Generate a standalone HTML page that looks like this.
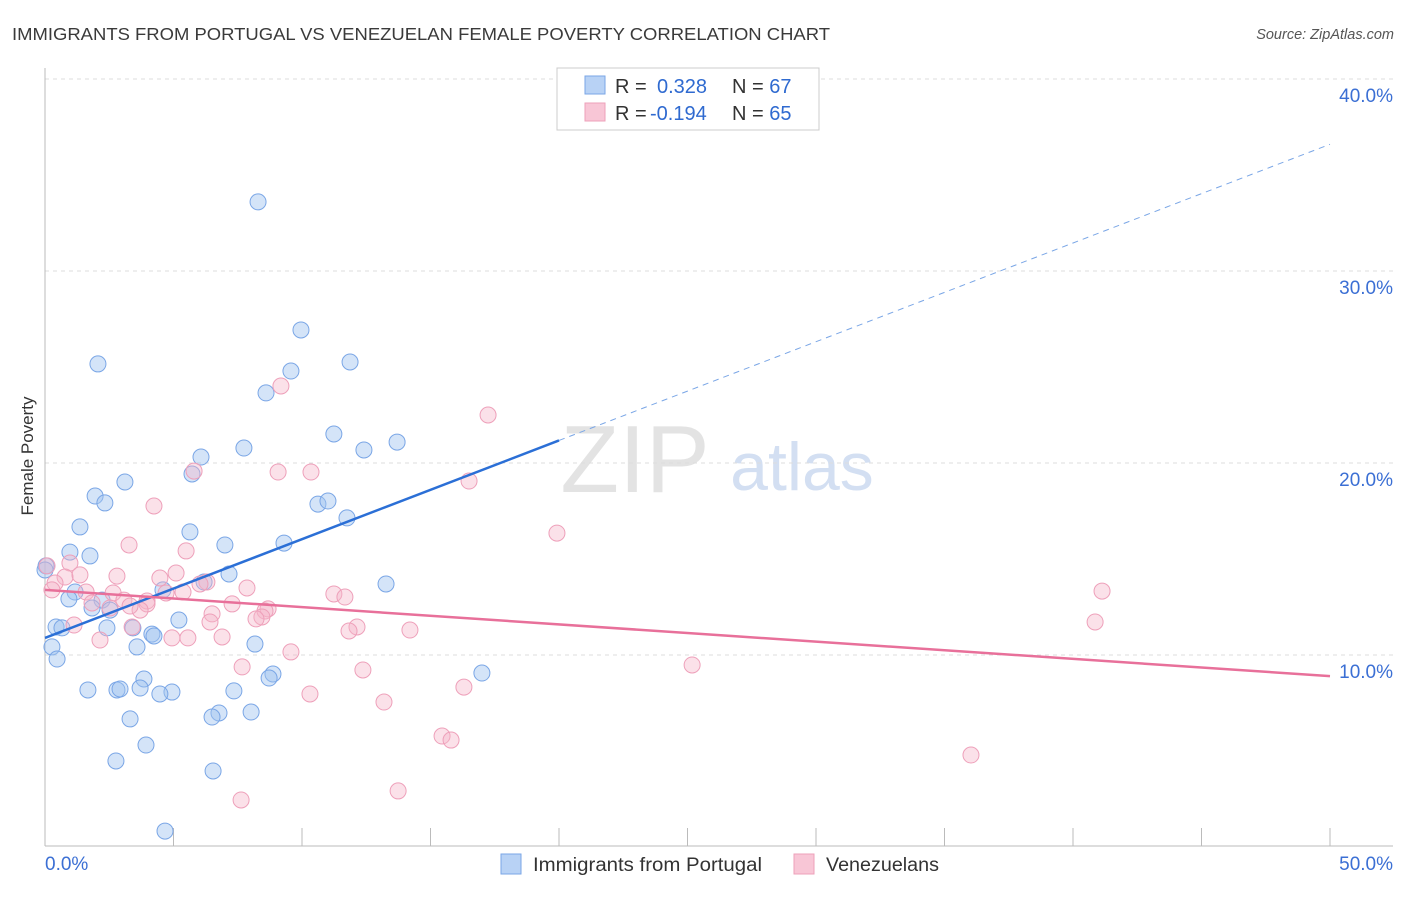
<!DOCTYPE html>
<html><head><meta charset="utf-8"><style>
body{margin:0;background:#fff;font-family:"Liberation Sans",sans-serif;}
svg text{font-family:"Liberation Sans",sans-serif;}
</style></head><body>
<svg id="chart" width="1406" height="892" xmlns="http://www.w3.org/2000/svg">
<text x="12" y="40" font-size="17.5" fill="#3a3a3a" textLength="818" lengthAdjust="spacingAndGlyphs">IMMIGRANTS FROM PORTUGAL VS VENEZUELAN FEMALE POVERTY CORRELATION CHART</text>
<text x="1394" y="39" font-size="14.5" fill="#555" font-style="italic" text-anchor="end">Source: ZipAtlas.com</text>
<text transform="translate(33,456) rotate(-90)" font-size="17" fill="#333" text-anchor="middle">Female Poverty</text>
<g>
<text x="635" y="492" font-size="96" fill="#d8d8d8" font-family="Liberation Serif" text-anchor="middle" opacity="0.7">ZIP</text>
<text x="802" y="490" font-size="68" fill="#c9d8ef" text-anchor="middle" opacity="0.8">atlas</text>
</g>
<g id="grid"></g>
<g id="axes"></g>
<g id="points"></g>
<g id="trends"></g>
<g>
<rect x="557" y="68" width="262" height="62" fill="#fff" stroke="#ccc"/>
<rect x="585" y="76" width="20" height="18" fill="#b8d2f5" stroke="#7aa6e6"/>
<text x="615" y="93" font-size="20" fill="#333">R =</text>
<text x="657" y="93" font-size="20" fill="#2f6ad0">0.328</text>
<text x="732" y="93" font-size="20" fill="#333">N = <tspan fill="#2f6ad0">67</tspan></text>
<rect x="585" y="103" width="20" height="18" fill="#f8c6d6" stroke="#eea0ba"/>
<text x="615" y="120" font-size="20" fill="#333">R =</text>
<text x="650" y="120" font-size="20" fill="#2f6ad0">-0.194</text>
<text x="732" y="120" font-size="20" fill="#333">N = <tspan fill="#2f6ad0">65</tspan></text>
</g>
<g>
<rect x="501" y="854" width="20" height="20" fill="#b8d2f5" stroke="#7aa6e6"/>
<text x="533" y="871" font-size="19" fill="#333" textLength="229" lengthAdjust="spacingAndGlyphs">Immigrants from Portugal</text>
<rect x="794" y="854" width="20" height="20" fill="#f8c6d6" stroke="#eea0ba"/>
<text x="826" y="871" font-size="19" fill="#333" textLength="113" lengthAdjust="spacingAndGlyphs">Venezuelans</text>
</g>
</svg>
<script>
const blueX=[8.29,9.96,11.87,2.06,9.57,8.6,11.24,13.7,12.41,7.74,6.07,5.72,3.11,1.95,2.33,10.62,11.01,11.75,1.36,5.64,9.3,7.0,0.97,1.75,7.16,6.19,13.27,4.59,1.17,0.93,2.22,2.53,1.83,5.21,0.43,0.66,3.42,4.16,4.24,2.41,8.17,3.58,0.27,0.47,17.0,8.87,3.85,8.72,1.67,2.8,2.92,3.7,4.94,4.47,7.35,6.77,6.5,8.02,3.31,3.93,2.76,6.54,4.67,0.04,0];
const blueY=[33.6,26.93,25.26,25.16,24.79,23.65,21.51,21.09,20.68,20.78,20.31,19.43,19.01,18.28,17.92,17.86,18.02,17.14,16.67,16.41,15.83,15.73,15.36,15.16,14.22,13.8,13.7,13.39,13.28,12.92,12.86,12.34,12.45,11.82,11.46,11.41,11.41,11.09,10.99,11.41,10.57,10.42,10.42,9.79,9.06,9.01,8.75,8.8,8.18,8.18,8.23,8.28,8.07,7.97,8.13,6.98,6.77,7.03,6.67,5.31,4.48,3.96,0.83,14.64,14.43];
const pinkX=[9.18,17.24,5.8,9.07,10.35,16.5,4.24,19.92,3.27,5.49,0.97,0.08,0.78,2.8,1.36,4.47,5.1,7.86,6.3,0.39,1.6,2.65,4.71,5.37,11.24,11.67,3.07,3.97,7.28,1.83,8.68,8.56,3.97,6.5,6.42,8.44,8.21,3.7,1.13,12.14,11.83,14.2,2.14,5.56,6.89,4.94,3.39,41.13,40.86,9.57,7.67,12.37,25.18,10.31,16.3,13.19,15.45,15.8,36.03,7.63,13.74,6.03,2.53,0.27,3.31];
const pinkY=[24.01,22.5,19.58,19.53,19.53,19.06,17.76,16.35,15.73,15.42,14.79,14.64,14.06,14.11,14.17,14.01,14.27,13.49,13.8,13.75,13.28,13.23,13.23,13.28,13.18,13.02,12.86,12.81,12.66,12.71,12.4,12.29,12.66,12.14,11.72,11.98,11.88,12.34,11.56,11.46,11.25,11.3,10.78,10.89,10.94,10.89,11.46,13.33,11.72,10.16,9.38,9.22,9.48,7.97,8.33,7.55,5.78,5.57,4.79,2.45,2.92,13.7,12.45,13.39,12.55];
const yTicks=[10,20,30,40];
const yTickLabels=["10.0%","20.0%","30.0%","40.0%"];
const xTicks=[0,5,10,15,20,25,30,35,40,45,50];
const blueTrend=[10.89,36.6];
const pinkTrend=[13.39,8.9];
const blueSolidEnd=20;

const NS="http://www.w3.org/2000/svg";
const sx=v=>45+v*25.7;
const sy=v=>847-v*19.2;
function mk(tag,attrs,parent){const e=document.createElementNS(NS,tag);for(const k in attrs)e.setAttribute(k,attrs[k]);document.getElementById(parent).appendChild(e);return e;}

yTicks.forEach((t,i)=>{
 const l=mk('line',{x1:45,x2:1393,y1:sy(t),y2:sy(t),stroke:'#ddd','stroke-dasharray':'4,4'},'grid');
 
 
 const tx=mk('text',{x:1393,y:sy(t)+23,'font-size':19,fill:'#3b6fd4','text-anchor':'end'},'grid');
 tx.textContent=yTickLabels[i];
 
 
});
const ax=mk('line',{x1:45,x2:1393,y1:846,y2:846,stroke:'#bbb'},'axes');


const ay=mk('line',{x1:45,x2:45,y1:68,y2:846,stroke:'#bbb'},'axes');


xTicks.forEach(t=>{
 const l=mk('line',{x1:sx(t),x2:sx(t),y1:828,y2:846,stroke:'#bbb'},'axes');
 
 
});
const xl0=mk('text',{x:45,y:870,'font-size':19,fill:'#3b6fd4'},'axes');
xl0.textContent=xTicks[0].toFixed(1)+'%';


const xl1=mk('text',{x:1393,y:870,'font-size':19,fill:'#3b6fd4','text-anchor':'end'},'axes');
xl1.textContent=xTicks[xTicks.length-1].toFixed(1)+'%';



blueX.forEach((v,i)=>{
 const c=mk('circle',{cx:sx(v),cy:sy(blueY[i]),r:8,fill:'rgba(160,195,240,0.45)',stroke:'#7aa6e6','stroke-width':1},'points');
 
 
});
pinkX.forEach((v,i)=>{
 const c=mk('circle',{cx:sx(v),cy:sy(pinkY[i]),r:8,fill:'rgba(245,180,200,0.4)',stroke:'#eea0ba','stroke-width':1},'points');
 
 
});
const bAt=x=>blueTrend[0]+(blueTrend[1]-blueTrend[0])*x/50;
const bt1=mk('line',{x1:sx(0),y1:sy(bAt(0)),x2:sx(blueSolidEnd),y2:sy(bAt(blueSolidEnd)),stroke:'#2b6fd6','stroke-width':2.5},'trends');


const bt2=mk('line',{x1:sx(blueSolidEnd),y1:sy(bAt(blueSolidEnd)),x2:sx(50),y2:sy(bAt(50)),stroke:'#7aa6e6','stroke-width':1,'stroke-dasharray':'6,5'},'trends');


const pt=mk('line',{x1:sx(0),y1:sy(pinkTrend[0]),x2:sx(50),y2:sy(pinkTrend[1]),stroke:'#e8709a','stroke-width':2.5},'trends');


</script>
</body></html>
